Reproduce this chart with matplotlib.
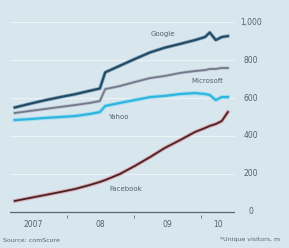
import matplotlib
matplotlib.use("Agg")
import matplotlib.pyplot as plt
import matplotlib.patheffects as pe

# Shared x positions (fractional years)
years = [2007.22, 2007.45, 2007.67, 2007.90, 2008.12, 2008.34, 2008.49, 2008.57,
         2008.79, 2009.01, 2009.24, 2009.46, 2009.69, 2009.91, 2010.06, 2010.13,
         2010.22, 2010.31, 2010.40]

google = [550, 570, 588, 605, 620, 638, 650, 735, 770, 805, 840, 865, 885, 905,
          921, 945, 905, 921, 926]
microsoft = [521, 532, 542, 553, 563, 574, 584, 647, 663, 684, 705, 716, 732, 742,
             747, 753, 753, 758, 758]
yahoo = [484, 489, 495, 500, 505, 516, 526, 558, 574, 589, 605, 611, 621, 626,
         621, 616, 589, 605, 605]
facebook = [58, 74, 89, 105, 121, 142, 158, 168, 200, 242, 289, 337, 379, 421,
            442, 453, 463, 479, 526]

x_tick_pos = [2007.5, 2008.5, 2009.5, 2010.25]
x_tick_labels = ["2007", "08", "09", "10"]
y_ticks = [0, 200, 400, 600, 800, 1000]
y_tick_labels = ["0", "200", "400", "600", "800", "1,000"]

bg = "#d8e6ed"
fig = plt.figure(figsize=(2.89, 2.48), dpi=100, facecolor=bg)
ax = fig.add_axes([10/289, 1 - 215/248, 225/289, 200/248])
ax.set_facecolor(bg)
ax.set_xlim(2007.149, 2010.507)
ax.set_ylim(-16, 1037)

for v in y_ticks[1:]:
    ax.axhline(v, color="#eef5f8", lw=0.7, zorder=0)
ax.axhline(0, color="#5a6670", lw=0.9, zorder=1)

ax.plot(years, microsoft, color="#6e7c8c", lw=1.3, zorder=3,
        path_effects=[pe.Stroke(linewidth=2.4, foreground="#c4c4d2"), pe.Normal()])
ax.plot(years, yahoo, color="#2fb6e0", lw=1.6, zorder=3,
        path_effects=[pe.Stroke(linewidth=3.0, foreground="#a6ddef"), pe.Normal()])
ax.plot(years, google, color="#1f4b66", lw=1.5, zorder=4,
        path_effects=[pe.Stroke(linewidth=2.6, foreground="#8aa6b8"), pe.Normal()])
ax.plot(years, facebook, color="#4a2224", lw=1.3, zorder=4,
        path_effects=[pe.Stroke(linewidth=2.8, foreground="#d8aab4"), pe.Normal()])

tc = "#55636e"
ax.text(2009.43, 935, "Google", fontsize=5, color=tc, ha="center", va="center")
ax.text(2010.10, 690, "Microsoft", fontsize=5, color=tc, ha="center", va="center")
ax.text(2008.77, 500, "Yahoo", fontsize=5, color=tc, ha="center", va="center")
ax.text(2008.88, 120, "Facebook", fontsize=5, color=tc, ha="center", va="center")

for s in ax.spines.values():
    s.set_visible(False)
ax.set_xticks([2008, 2009, 2010])
ax.set_xticklabels([])
ax.tick_params(axis="x", length=2, color="#5a6670", width=0.6)
for p, l in zip(x_tick_pos, x_tick_labels):
    ax.text(p, -40, l, fontsize=5.5, color=tc, ha="center", va="top")
ax.set_yticks([])
for v, l in zip(y_ticks, y_tick_labels):
    ax.text(1.07, v, l, transform=ax.get_yaxis_transform(), fontsize=5.5,
            color=tc, ha="center", va="center")

fig.text(3/289, 1 - 240/248, "Source: comScore", fontsize=4.5, color=tc,
         ha="left", va="center")
fig.text(280/289, 1 - 240/248, "*Unique visitors, m", fontsize=4.5, color=tc,
         ha="right", va="center")

fig.savefig("out.png", dpi=100, facecolor=bg)
